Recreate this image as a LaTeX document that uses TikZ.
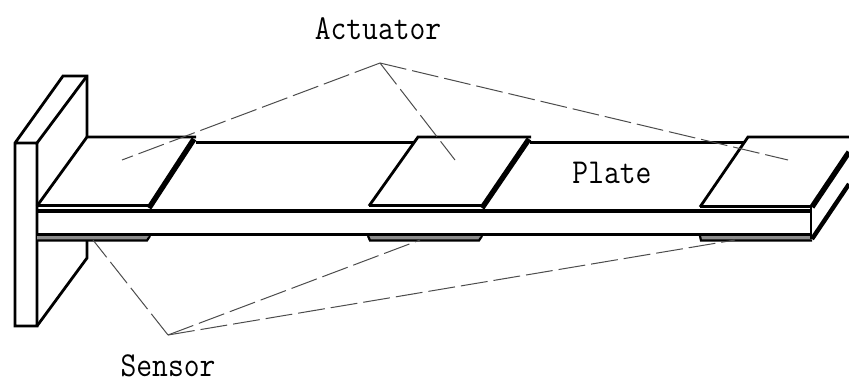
\documentclass[tikz,border=0pt]{standalone}
\usepackage{fontspec}
\setmonofont{Latin Modern Mono}
\tikzset{
  x=1pt,y=-1pt,
  edge/.style={line width=2.8pt,line join=miter,line cap=butt},
  beam/.style={line width=3.4pt,line cap=butt},
  thick edge/.style={line width=5.4pt},
  lead/.style={line width=1pt,draw=black!70,dash pattern=on 27pt off 6pt},
  lab/.style={font=\ttfamily\fontsize{33}{36}\selectfont,inner sep=0pt,text=black,xscale=0.93,yscale=1.06,text depth=0pt,text height=21pt,anchor=base},
  sensorbar/.style={fill=black!45,draw=none}
}
\begin{document}
\begin{tikzpicture}
\useasboundingbox (0,0) rectangle (849,380);
% labels
\node[lab] (actlab) at (378,39) {Actuator};
\node[lab] (senlab) at (168,376) {Sensor};
\node[lab] (platelab) at (612,183) {Plate};
% leader anchors
\coordinate (actapex) at (380,63);
\coordinate (a1) at (122,160);
\coordinate (a2) at (455,160);
\coordinate (a3) at (788,160);
\coordinate (senapex) at (168,335);
\coordinate (s1) at (93,240);
\coordinate (s2) at (420,240);
\coordinate (s3) at (735,240);
% wall
\draw[edge] (87,137) -- (87,76) -- (63,76) -- (15,143) -- (15,326) -- (37,326) -- (37,143) -- (15,143);
\draw[edge] (37,143) -- (87,76);
\draw[edge] (87,240) -- (87,258) -- (37,326);
% sensors
\fill[sensorbar] (37,235) rectangle (148,239.5);
\fill[sensorbar] (369,235) rectangle (480,239.5);
\fill[sensorbar] (700,235) rectangle (811,239.5);
\draw[edge,line width=2.2pt] (37,240.5) -- (147,240.5) -- (150,236);
\draw[edge,line width=2.2pt] (368,236) -- (370,240.5) -- (479,240.5) -- (482,236);
\draw[edge,line width=2.2pt] (700,236) -- (701,240.5) -- (812,240.5);
% beam
\draw[beam] (37,211) -- (811,211);
\draw[beam] (37,234.5) -- (811,234.5);
\draw[beam] (196,142.5) -- (414,142.5);
\draw[beam] (530,142.5) -- (745,142.5);
\draw[edge] (811,207) -- (811,239);
\draw[thick edge,line width=4.4pt] (812,239) -- (849,184);
% actuators
\draw[edge] (37,206) -- (87,137) -- (196,137);
\draw[edge,line width=2.2pt] (37,205.5) -- (148,205.5);
\draw[thick edge] (149,208) -- (194,139);
\draw[edge] (369,206) -- (418,137) -- (531,137);
\draw[edge,line width=2.2pt] (369,205.5) -- (482,205.5);
\draw[thick edge] (482,208) -- (529,139);
\draw[edge] (700,207) -- (748,137) -- (849,137);
\draw[edge,line width=2.2pt] (700,206.5) -- (812,206.5);
\draw[thick edge] (812,207) -- (849,152);
% leaders
\draw[lead] (actapex) -- (a1);
\draw[lead] (actapex) -- (a2);
\draw[lead] (actapex) -- (a3);
\draw[lead] (senapex) -- (s1);
\draw[lead] (senapex) -- (s2);
\draw[lead] (senapex) -- (s3);
\end{tikzpicture}
\end{document}
